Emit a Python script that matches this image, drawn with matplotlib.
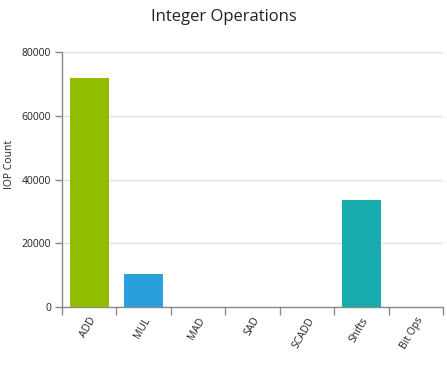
#!/usr/bin/env python

import numpy
import matplotlib
matplotlib.use("Agg")
import matplotlib.pyplot as pyplot
from matplotlib.ticker import FixedLocator

CATEGORIES = ["ADD", "MUL", "MAD", "SAD", "SCADD", "Shifts", "Bit Ops"]
IOP_COUNT = [71800, 10300, 0, 0, 0, 33500, 0]
BAR_COLORS = ["#90bd00", "#27a0dc", "#27a0dc", "#27a0dc", "#27a0dc", "#17abab", "#17abab"]
Y_TICKS = [0, 20000, 40000, 60000, 80000]

AXIS_GREY = "#8a8a8a"
GRID_GREY = "#e3e3e3"
TEXT_COLOR = "#222222"

pyplot.rcParams['font.family'] = ['Open Sans', 'DejaVu Sans']

figure = pyplot.figure(figsize=(4.47, 3.66), dpi=100)
ax = figure.add_axes([62/447, 1-307/366, 381/447, 255/366])

x = numpy.arange(len(CATEGORIES))
ax.bar(x, IOP_COUNT, width=0.71, color=BAR_COLORS, zorder=3)

ax.set_xlim(-0.5, len(CATEGORIES)-0.5)
ax.set_ylim(0, 80000)
ax.set_yticks(Y_TICKS)
ax.set_yticklabels([str(v) for v in Y_TICKS], fontsize=7.5, color=TEXT_COLOR)
ax.yaxis.grid(True, color=GRID_GREY, lw=1, zorder=0)

ax.set_xticks(x)
ax.set_xticklabels(CATEGORIES, rotation=60, ha='right', va='top',
                   rotation_mode='anchor', fontsize=7.5, color=TEXT_COLOR)
ax.tick_params(axis='x', which='major', length=0, pad=6)
ax.xaxis.set_minor_locator(FixedLocator(numpy.arange(-0.5, len(CATEGORIES), 1.0)))
ax.tick_params(axis='x', which='minor', length=6, color=AXIS_GREY, width=1)
ax.tick_params(axis='y', length=5, color=AXIS_GREY, width=1, pad=3)

for side in ('top', 'right'):
    ax.spines[side].set_visible(False)
for side in ('left', 'bottom'):
    ax.spines[side].set_color(AXIS_GREY)
    ax.spines[side].set_linewidth(1)

ax.set_ylabel("IOP Count", fontsize=7.5, color=TEXT_COLOR)
ax.yaxis.set_label_coords((15-62)/381, (307-164)/255)
figure.text(224/447, 1-17/366, "Integer Operations", ha='center', va='center',
            fontsize=12, color=TEXT_COLOR)

figure.savefig("out.png", dpi=100)
